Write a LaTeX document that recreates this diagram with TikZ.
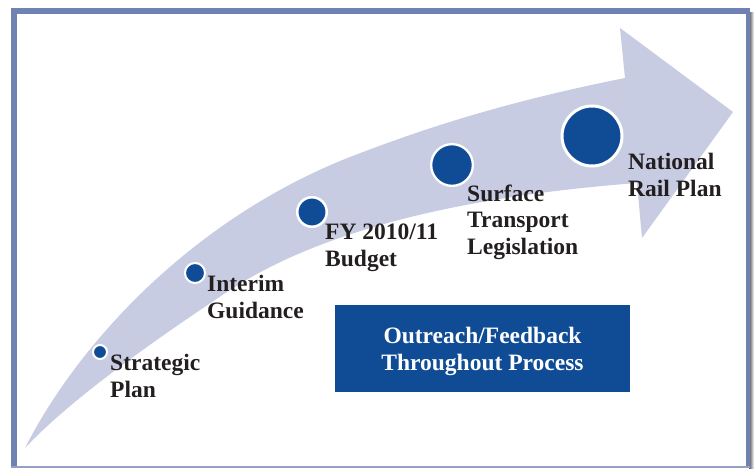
\documentclass[tikz,border=0pt]{standalone}
\usepackage{fontspec}
\setmainfont{Liberation Serif}
\definecolor{frameblue}{RGB}{112,130,180}
\definecolor{framelight}{RGB}{150,160,198}
\definecolor{arrowfill}{RGB}{200,204,227}
\definecolor{dotblue}{RGB}{16,76,150}
\definecolor{txt}{RGB}{35,31,32}
\begin{document}
\begin{tikzpicture}[x=1pt,y=-1pt,
  lbl/.style={anchor=base west, align=left, inner sep=0pt, text=txt,
    font=\fontsize{23.5}{26.5}\selectfont\bfseries},
  dot/.style={circle, fill=dotblue, draw=white, inner sep=0pt}]
\useasboundingbox (0,0) rectangle (754,468);
\fill[white] (0,0) rectangle (754,468);
% shadow and frame
\shade[left color=gray!70!black, right color=white] (749,13) rectangle (754,468);
\fill[frameblue] (11,8) rectangle (749.5,14);
\fill[frameblue] (11,8) rectangle (17,468);
\fill[frameblue] (745.5,8) rectangle (749.5,466);
\fill[framelight] (11,465.5) rectangle (749.5,468);
% arrow
\fill[arrowfill] (25,448) .. controls (80,340) and (195,218) .. (350,157)
  .. controls (420,130) and (500,103) .. (625,78)
  -- (620,28) -- (733,112) -- (642,238) -- (637,183)
  .. controls (480,195) and (330,225) .. (230,290)
  .. controls (150,343) and (70,400) .. (25,448) -- cycle;
% dots
\node[dot, minimum size=14pt, line width=2pt] (d1) at (100,352) {};
\node[dot, minimum size=20pt, line width=2pt] (d2) at (195,273) {};
\node[dot, minimum size=29.5pt, line width=2.5pt] (d3) at (312,212) {};
\node[dot, minimum size=41.7pt, line width=2.3pt] (d4) at (452,165) {};
\node[dot, minimum size=60pt, line width=3pt] (d5) at (592,136) {};
% labels (anchor at baseline of last line)
\node[lbl] (t1) at (110,397) {Strategic\\Plan};
\node[lbl] (t2) at (207,318) {Interim\\Guidance};
\node[lbl] (t3) at (325,266) {FY 2010/11\\Budget};
\node[lbl] (t4) at (467,254) {Surface\\Transport\\Legislation};
\node[lbl] (t5) at (628,196) {National\\Rail Plan};
% box
\node[fill=dotblue, minimum width=295pt, minimum height=87pt, inner sep=0pt]
  (box) at (482.5,348.5) {};
\node[align=center, inner sep=0pt, text=white,
  font=\fontsize{23.5}{26.5}\selectfont\bfseries]
  (boxtext) at (482.5,351.5) {Outreach/Feedback\\Throughout Process};
\end{tikzpicture}
\end{document}
